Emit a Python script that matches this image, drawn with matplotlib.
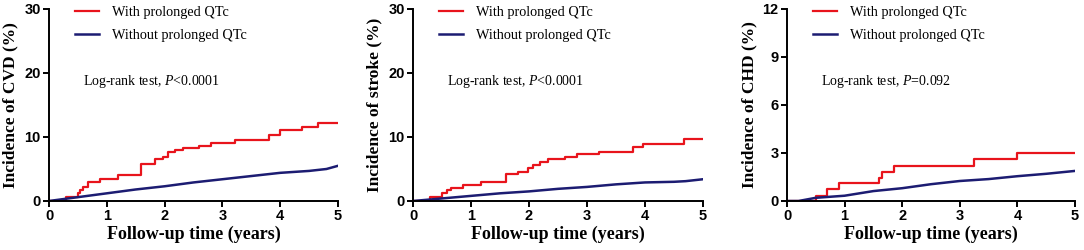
import numpy as np
import matplotlib.pyplot as plt

plt.rcParams["mathtext.fontset"] = "custom"
plt.rcParams["mathtext.rm"] = "Liberation Serif"
plt.rcParams["mathtext.it"] = "Liberation Serif:italic"

# step data (years, cumulative incidence %)
cvd_red_t = [0, 0.2, 0.3, 0.5, 0.53, 0.58, 0.68, 0.88, 1.2, 1.6, 1.83, 1.98, 2.06, 2.18, 2.32, 2.6, 2.8, 3.22, 3.8, 4.0, 4.37, 4.66, 5.0]
cvd_red_y = [0, 0.2, 0.7, 1.2, 1.7, 2.2, 2.9, 3.5, 4.0, 5.8, 6.5, 6.9, 7.6, 8.0, 8.3, 8.6, 9.1, 9.5, 10.3, 11.1, 11.6, 12.2, 12.2]
cvd_blue_t = [0, 0.25, 0.5, 1.0, 1.5, 2.0, 2.5, 3.0, 3.5, 4.0, 4.5, 4.8, 5.0]
cvd_blue_y = [0, 0.3, 0.6, 1.2, 1.8, 2.3, 2.9, 3.4, 3.9, 4.4, 4.7, 5.0, 5.5]

stroke_red_t = [0, 0.3, 0.5, 0.58, 0.66, 0.86, 1.18, 1.61, 1.81, 1.99, 2.07, 2.19, 2.33, 2.62, 2.82, 3.2, 3.8, 3.97, 4.67, 5.0]
stroke_red_y = [0, 0.7, 1.3, 1.7, 2.1, 2.5, 2.9, 4.2, 4.6, 5.1, 5.7, 6.1, 6.5, 6.9, 7.3, 7.7, 8.5, 8.9, 9.7, 9.7]
stroke_blue_t = [0, 0.5, 1.0, 1.5, 2.0, 2.5, 3.0, 3.5, 4.0, 4.5, 4.7, 5.0]
stroke_blue_y = [0, 0.4, 0.8, 1.2, 1.5, 1.9, 2.2, 2.6, 2.9, 3.0, 3.1, 3.4]

chd_red_t = [0, 0.5, 0.7, 0.9, 1.6, 1.65, 1.85, 3.25, 4.0, 5.0]
chd_red_y = [0, 0.33, 0.75, 1.1, 1.45, 1.8, 2.2, 2.6, 3.0, 3.0]
chd_blue_t = [0, 0.2, 0.5, 1.0, 1.5, 2.0, 2.5, 3.0, 3.5, 4.0, 4.5, 5.0]
chd_blue_y = [0, 0.0, 0.2, 0.33, 0.62, 0.8, 1.05, 1.25, 1.37, 1.55, 1.7, 1.88]

panels = [
    ("Incidence of CVD (%)", 30, [0, 10, 20, 30], "<0.0001", cvd_red_t, cvd_red_y, cvd_blue_t, cvd_blue_y),
    ("Incidence of stroke (%)", 30, [0, 10, 20, 30], "<0.0001", stroke_red_t, stroke_red_y, stroke_blue_t, stroke_blue_y),
    ("Incidence of CHD (%)", 12, [0, 3, 6, 9, 12], "=0.092", chd_red_t, chd_red_y, chd_blue_t, chd_blue_y),
]

RED = "#e8141c"
BLUE = "#1c1c72"
W, H = 1084, 250
fig = plt.figure(figsize=(W / 100, H / 100), dpi=100)
lefts = [49, 413, 787]
rights = [338, 703, 1075]

for i, (ylab, ymax, yt, pval, rt, ry, bt, by) in enumerate(panels):
    ax = fig.add_axes([lefts[i] / W, (H - 201) / H, (rights[i] - lefts[i]) / W, 192 / H])
    ax.step(rt, ry, where="post", color=RED, lw=1.6, label="With prolonged QTc")
    ax.plot(bt, by, color=BLUE, lw=1.8, label="Without prolonged QTc")
    ax.set_xlim(0, 5)
    ax.set_ylim(0, ymax)
    ax.set_xticks(range(6))
    ax.set_yticks(yt)
    for s in ["top", "right"]:
        ax.spines[s].set_visible(False)
    for s in ["left", "bottom"]:
        ax.spines[s].set_linewidth(1.4)
    ax.tick_params(width=1.4, length=4, labelsize=10.5, pad=2)
    for lab in ax.get_xticklabels() + ax.get_yticklabels():
        lab.set_fontfamily("Liberation Sans")
        lab.set_fontweight("bold")
    ax.set_xlabel("Follow-up time (years)", fontfamily="Liberation Serif", fontweight="bold", fontsize=13, labelpad=2)
    ax.set_ylabel(ylab, fontfamily="Liberation Serif", fontweight="bold", fontsize=12.5, labelpad=4)
    ax.legend(loc="upper left", bbox_to_anchor=(0.045, 1.085), frameon=False, handlelength=1.7,
              handletextpad=0.9, labelspacing=0.75, prop={"family": "Liberation Serif", "size": 10.3})
    ax.text(0.117, 0.62, "Log-rank test, $\\mathit{P}$" + pval, transform=ax.transAxes,
            fontfamily="Liberation Serif", fontsize=10, va="center")

fig.savefig("out.png", dpi=100)
